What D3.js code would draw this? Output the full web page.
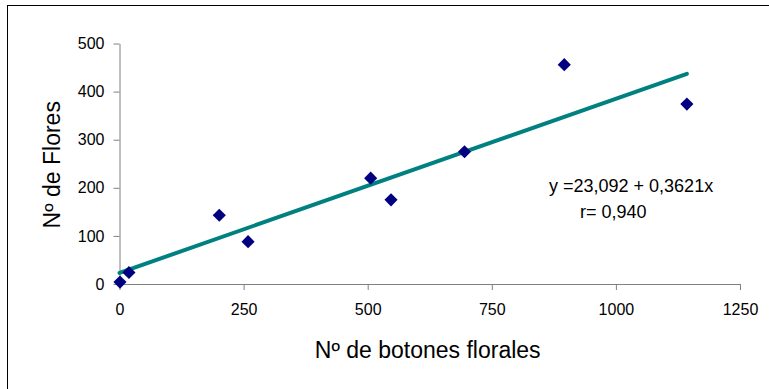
<!DOCTYPE html>
<html>
<head>
<meta charset="utf-8">
<script src="https://cdn.jsdelivr.net/npm/d3@7/dist/d3.min.js"></script>
<style>
  html, body { margin: 0; padding: 0; background: #fff; }
  svg { display: block; font-family: Arial, "Liberation Sans", sans-serif; }
</style>
</head>
<body>
<svg id="chart" width="769" height="389"></svg>
<script>
// Número de botones florales vs número de flores
const botones = [1, 19, 201, 259, 506, 547, 695, 896, 1143];
const flores  = [4, 24, 143, 88, 220, 175, 275, 456, 374];

const xTicks = [0, 250, 500, 750, 1000, 1250];
const yTicks = [0, 100, 200, 300, 400, 500];

// Recta de regresión: y = a + b x, trazada sobre el rango de los datos
const intercepto = 23.092;
const pendiente = 0.3621;
const ecuacion = "y =23,092 + 0,3621x";
const correlacion = "r= 0,940";

const xTitle = "Nº de botones florales";
const yTitle = "Nº de Flores";

const svg = d3.select("#chart");

// marco exterior
svg.append("rect")
  .attr("x", 7.5).attr("y", 5.5)
  .attr("width", 800).attr("height", 420)
  .attr("fill", "none").attr("stroke", "#000").attr("stroke-width", 1);

const x = d3.scaleLinear().domain([0, 1250]).range([119.5, 740]);
const y = d3.scaleLinear().domain([0, 500]).range([284, 43.5]);

const axisColor = "#808080";
const fmt = d => String(d);

const gx = svg.append("g").attr("transform", `translate(0,${y(0)})`)
  .call(d3.axisBottom(x).tickValues(xTicks).tickFormat(fmt).tickSize(6).tickSizeOuter(0).tickPadding(14));
const gy = svg.append("g").attr("transform", `translate(${x(0)},0)`)
  .call(d3.axisLeft(y).tickValues(yTicks).tickFormat(fmt).tickSize(6).tickSizeOuter(0).tickPadding(9));

[gx, gy].forEach(g => {
  g.attr("font-size", null).attr("font-family", null);
  g.select(".domain").attr("stroke", axisColor);
  g.selectAll(".tick line").attr("stroke", axisColor);
  g.selectAll(".tick text").attr("fill", "#000")
    .style("font-size", "16px");
});

// recta de regresión
const rango = [0, d3.max(botones)];
const linea = rango.map(v => [v, intercepto + pendiente * v]);
svg.append("path")
  .datum(linea)
  .attr("d", d3.line().x(d => x(d[0])).y(d => y(d[1])))
  .attr("fill", "none")
  .attr("stroke", "#008080")
  .attr("stroke-width", 4)
  .attr("stroke-linecap", "round");

// puntos (rombos)
const rombo = d3.symbol().type(d3.symbolDiamond2).size(110);
svg.append("g").selectAll("path")
  .data(botones.map((b, i) => [b, flores[i]]))
  .join("path")
  .attr("transform", d => `translate(${x(d[0])},${y(d[1])})`)
  .attr("d", rombo)
  .attr("fill", "#000080");

// ecuación
svg.append("text")
  .attr("x", 549).attr("y", 192)
  .style("font-size", "18px")
  .text(ecuacion);
svg.append("text")
  .attr("x", 580).attr("y", 218)
  .style("font-size", "18px")
  .text(correlacion);

// títulos de ejes
svg.append("text")
  .attr("x", (x(0) + x(1250)) / 2 - 2).attr("y", 358)
  .attr("text-anchor", "middle")
  .style("font-size", "23px")
  .text(xTitle);
svg.append("text")
  .attr("transform", `translate(60,${(y(0) + y(500)) / 2 + 1})rotate(-90)`)
  .attr("text-anchor", "middle")
  .style("font-size", "23px")
  .text(yTitle);
</script>
</body>
</html>
